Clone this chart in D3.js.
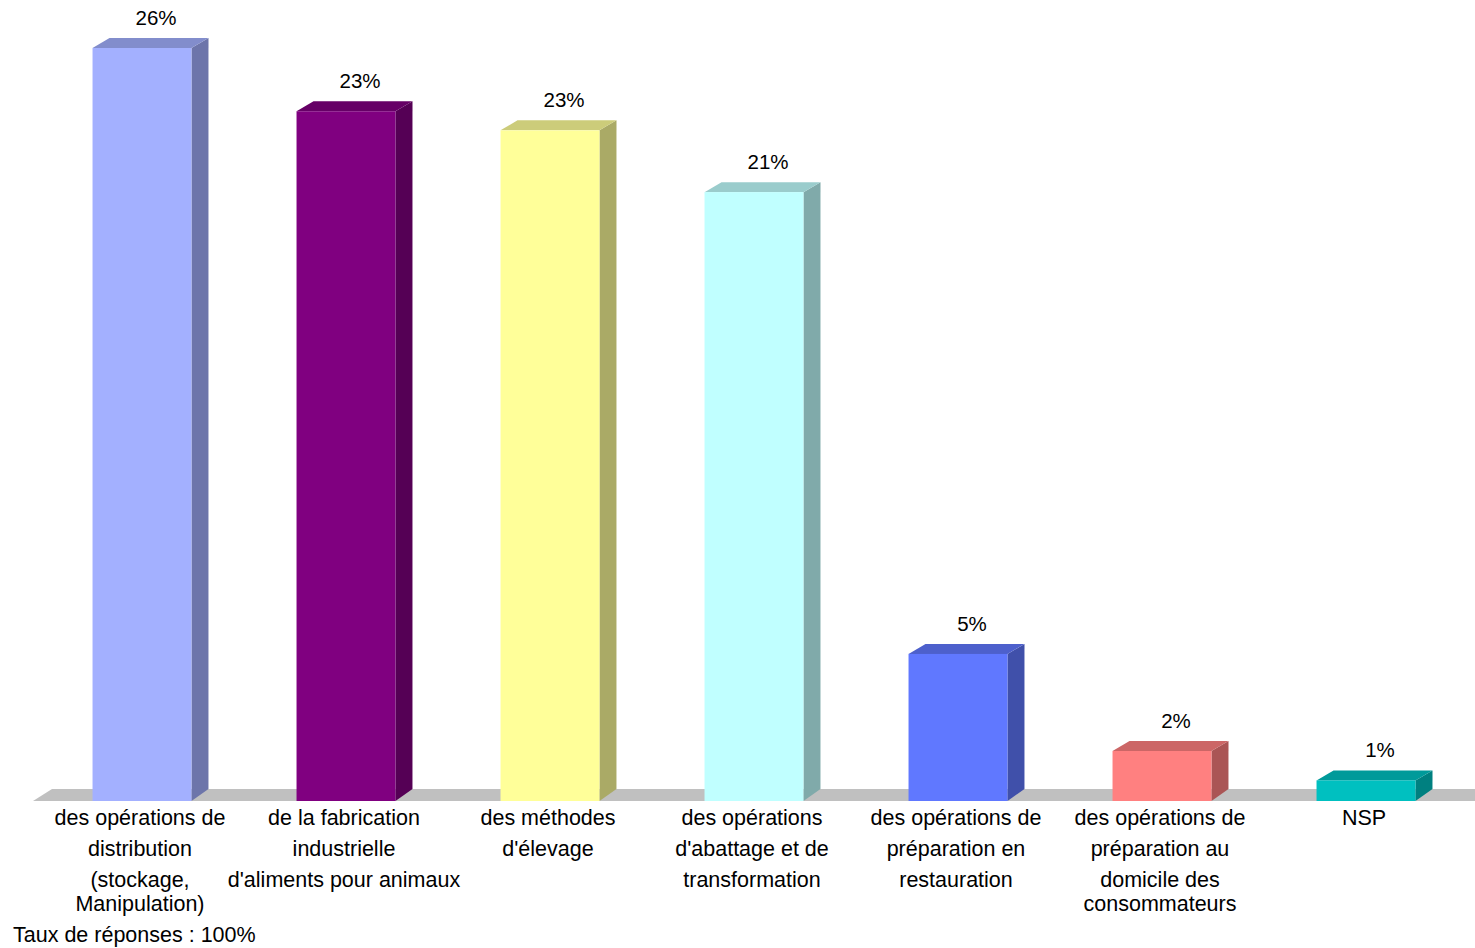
<!DOCTYPE html>
<html lang="fr">
<head>
<meta charset="utf-8">
<script src="https://cdn.jsdelivr.net/npm/d3@7/dist/d3.min.js"></script>
<style>
  html, body { margin: 0; padding: 0; background: #fff; }
  svg { display: block; font-family: "Liberation Sans", Arial, Helvetica, sans-serif; }
</style>
</head>
<body>
<svg id="chart" width="1475" height="948"></svg>
<script>
// Category labels: each entry is a list of lines; a nested list is one line that wraps.
const categories = [
  ["des opérations de", "distribution", ["(stockage,", "Manipulation)"]],
  ["de la fabrication", "industrielle", "d'aliments pour animaux"],
  ["des méthodes", "d'élevage"],
  ["des opérations", "d'abattage et de", "transformation"],
  ["des opérations de", "préparation en", "restauration"],
  ["des opérations de", "préparation au", ["domicile des", "consommateurs"]],
  ["NSP"]
];
// Share of answers, in percent
const values = [25.6, 23.45, 22.8, 20.7, 5.0, 1.7, 0.7];
// Front face colour of each bar
const colors = ["#a3b0ff", "#800080", "#ffff99", "#c0ffff", "#6078ff", "#ff8080", "#00c0c0"];
const footnote = "Taux de réponses : 100%";

const svg = d3.select("#chart");

const baseY = 801;          // front edge of the floor
const depthX = 17, depthY = 10;   // 3D offset of the bars
const floorDX = 19, floorDY = 12; // 3D offset of the floor

const x = d3.scaleBand()
  .domain(d3.range(values.length))
  .range([40, 40 + 204 * values.length])
  .paddingInner(0.515)
  .paddingOuter(0.2575);

const y = d3.scaleLinear().domain([0, 25.6]).range([baseY, 48]);

const shade = (c, k) => {
  const r = d3.rgb(c);
  return d3.rgb(r.r * k, r.g * k, r.b * k).formatHex();
};

// Floor slab
svg.append("polygon")
  .attr("points", [
    [33, baseY], [1475, baseY], [1475, baseY - floorDY], [33 + floorDX, baseY - floorDY]
  ].map(p => p.join(",")).join(" "))
  .attr("fill", "#c0c0c0");

const bars = svg.append("g").selectAll("g")
  .data(values.map((v, i) => ({ v, i })))
  .join("g");

// Side face
bars.append("polygon")
  .attr("points", d => {
    const x1 = x(d.i) + x.bandwidth(), yt = y(d.v);
    return [[x1, yt], [x1 + depthX, yt - depthY], [x1 + depthX, baseY - floorDY], [x1, baseY]]
      .map(p => p.join(",")).join(" ");
  })
  .attr("fill", d => shade(colors[d.i], 0.667));

// Top face
bars.append("polygon")
  .attr("points", d => {
    const x0 = x(d.i), x1 = x0 + x.bandwidth(), yt = y(d.v);
    return [[x0, yt], [x1, yt], [x1 + depthX, yt - depthY], [x0 + depthX, yt - depthY]]
      .map(p => p.join(",")).join(" ");
  })
  .attr("fill", d => shade(colors[d.i], 0.8));

// Front face
bars.append("rect")
  .attr("x", d => x(d.i))
  .attr("y", d => y(d.v))
  .attr("width", x.bandwidth())
  .attr("height", d => baseY - y(d.v))
  .attr("fill", d => colors[d.i]);

// Value labels
bars.append("text")
  .attr("x", d => x(d.i) + x.bandwidth() / 2 + 14)
  .attr("y", d => y(d.v) - 23)
  .attr("text-anchor", "middle")
  .attr("font-size", 20.5)
  .attr("fill", "#000")
  .text(d => Math.round(d.v) + "%");

// Category labels
const catG = svg.append("g");
categories.forEach((lines, i) => {
  const cx = x(i) + x.bandwidth() / 2 - 2;
  const t = catG.append("text")
    .attr("text-anchor", "middle")
    .attr("font-size", 21.5)
    .attr("fill", "#000");
  lines.forEach((line, j) => {
    const slotY = 825 + j * 31;
    if (Array.isArray(line)) {
      line.forEach((sub, k) => {
        t.append("tspan").attr("x", cx).attr("y", slotY + k * 24).text(sub);
      });
    } else {
      t.append("tspan").attr("x", cx).attr("y", slotY).text(line);
    }
  });
});

svg.append("text")
  .attr("x", 13)
  .attr("y", 942)
  .attr("font-size", 21.5)
  .attr("fill", "#000")
  .text(footnote);
</script>
</body>
</html>
